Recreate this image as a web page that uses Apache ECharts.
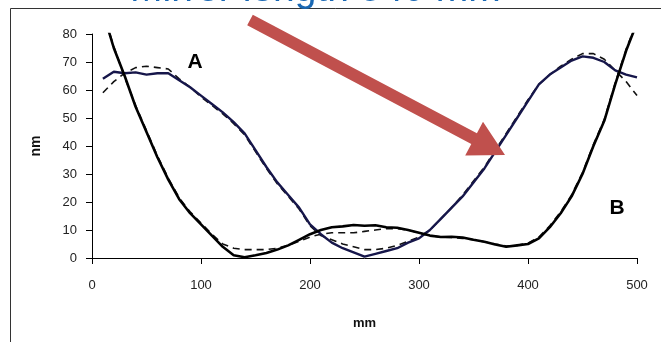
<!DOCTYPE html>
<html>
<head>
<meta charset="utf-8">
<script src="https://cdn.jsdelivr.net/npm/echarts@6/dist/echarts.min.js"></script>
<style>
html,body{margin:0;padding:0;background:#fff;}
#c{width:661px;height:342px;}
</style>
</head>
<body>
<div id="c"></div>
<script>
// positions along the mirror (mm)
const positionsMm = [10,20,30,40,50,60,70,80,90,100,110,120,130,140,150,160,170,180,190,200,
  210,220,230,240,250,260,270,280,290,300,310,320,330,340,350,360,370,380,390,400,
  410,420,430,440,450,460,470,480,490,500];

// Curve A, measured (solid) and computed (dashed), nm
const curveA = [64,66.5,66,66.3,65.5,66,66,63.5,61,58,55,52,48.5,44.5,38.5,32.5,27,22.5,18,12,
  8.5,5.5,3.5,2,0.5,1.5,2.5,3.5,5.5,7,10,14,18,22,27,32,38,44,50,56,
  62,65.5,68,70.5,72,71.5,70,67,65.5,64.5];
const curveAfit = [59,63,66,68,68.5,68,67.5,64,61,57.5,54.5,51.5,48,44,38,32,26.5,22,17.5,11.5,
  8,6.5,5,4,3,3,3.5,4.5,6,7.5,10,14,18,22.5,27.5,32.5,38.5,44.5,50.5,56.5,
  62,65.5,68.5,71,73,73,71,67,63,58];

// Curve B, measured (solid) and computed (dashed), nm
const curveB = [88,75,65,54,45,36,28,21,16,12,8,4,1,0.3,1,1.8,3,4.5,6.5,8.5,
  10,11,11.3,11.8,11.5,11.7,11,10.8,10,9,8,7.5,7.6,7.3,6.5,5.8,4.8,4,4.5,5,
  7,11,16,22,30,40,49,62,74,84];
const curveBfit = [88,75.5,64.5,54.5,45.5,36.5,28.5,21.5,16.5,12.5,8.5,5,3.5,3,3,3,3.5,4.5,6,7.5,
  8.5,9,9,9,9.5,10,10.5,10.5,10,9,8,7.5,7.3,7,6.5,5.8,5,4.3,4.5,5.3,
  7.5,11.5,16.5,22.5,30.5,40.5,49.5,62.5,74.5,84.5];

const yTicks = [0,10,20,30,40,50,60,70,80];
const xTicks = [0,100,200,300,400,500];

const pairs = (vals) => positionsMm.map((x, i) => [x, vals[i]]);

const chart = echarts.init(document.getElementById('c'), null, {renderer: 'canvas'});
const FONT = '"Liberation Sans", Arial, sans-serif';

chart.setOption({
  animation: false,
  backgroundColor: '#ffffff',
  grid: {left: 92, right: 24, top: 34, bottom: 84, containLabel: false},
  xAxis: {
    type: 'value', min: xTicks[0], max: xTicks[xTicks.length-1], interval: 100,
    name: 'mm', nameLocation: 'middle', nameGap: 59,
    nameTextStyle: {fontFamily: FONT, fontSize: 13, fontWeight: 'bold', color: '#111'},
    axisLine: {show: true, lineStyle: {color: '#000', width: 1}},
    axisTick: {show: true, length: 6, inside: false, lineStyle: {color: '#000'}},
    axisLabel: {margin: 21, fontFamily: FONT, fontSize: 13, color: '#222'},
    splitLine: {show: false}
  },
  yAxis: {
    type: 'value', min: yTicks[0], max: yTicks[yTicks.length-1], interval: 10,
    name: 'nm', nameLocation: 'middle', nameGap: 49,
    nameTextStyle: {fontFamily: FONT, fontSize: 14, fontWeight: 'bold', color: '#111'},
    axisLine: {show: true, lineStyle: {color: '#000', width: 1}},
    axisTick: {show: true, length: 6, lineStyle: {color: '#000'}},
    axisLabel: {margin: 15, fontFamily: FONT, fontSize: 13, color: '#222'},
    splitLine: {show: false}
  },
  series: [
    {type: 'line', data: pairs(curveAfit), showSymbol: false, clip: true, z: 2,
     lineStyle: {color: '#111', width: 1.6, type: [7, 5]}},
    {type: 'line', data: pairs(curveBfit), showSymbol: false, clip: true, z: 2,
     lineStyle: {color: '#111', width: 1.6, type: [7, 5]}},
    {type: 'line', data: pairs(curveA), showSymbol: false, clip: true, z: 3,
     lineStyle: {color: '#16164a', width: 2.4}},
    {type: 'line', data: pairs(curveB), showSymbol: false, clip: true, z: 3,
     lineStyle: {color: '#000', width: 2.6}}
  ],
  graphic: [
    {type: 'line', shape: {x1: 10.5, y1: 8.5, x2: 661, y2: 8.5}, style: {stroke: '#333', lineWidth: 1}, z: 1},
    {type: 'line', shape: {x1: 10.5, y1: 8.5, x2: 10.5, y2: 342}, style: {stroke: '#333', lineWidth: 1}, z: 1},
    {type: 'text', left: 130, top: -29, z: 1,
     style: {text: 'Mirror length 540 mm', font: '39px "Liberation Sans", Arial, sans-serif', fill: '#1a68b3'}},
    {type: 'text', x: 195, y: 62, z: 10,
     style: {text: 'A', font: 'bold 21px "Liberation Sans", Arial, sans-serif', fill: '#000', align: 'center', verticalAlign: 'middle'}},
    {type: 'text', x: 617, y: 208, z: 10,
     style: {text: 'B', font: 'bold 21px "Liberation Sans", Arial, sans-serif', fill: '#000', align: 'center', verticalAlign: 'middle'}},
    {type: 'polygon', z: 20,
     shape: {points: [[252.8,14.7],[476.9,133.3],[483.0,121.8],[505,155],[465.2,155.4],[471.3,143.9],[247.2,25.3]]},
     style: {fill: '#c0504d'}}
  ]
});
</script>
</body>
</html>
